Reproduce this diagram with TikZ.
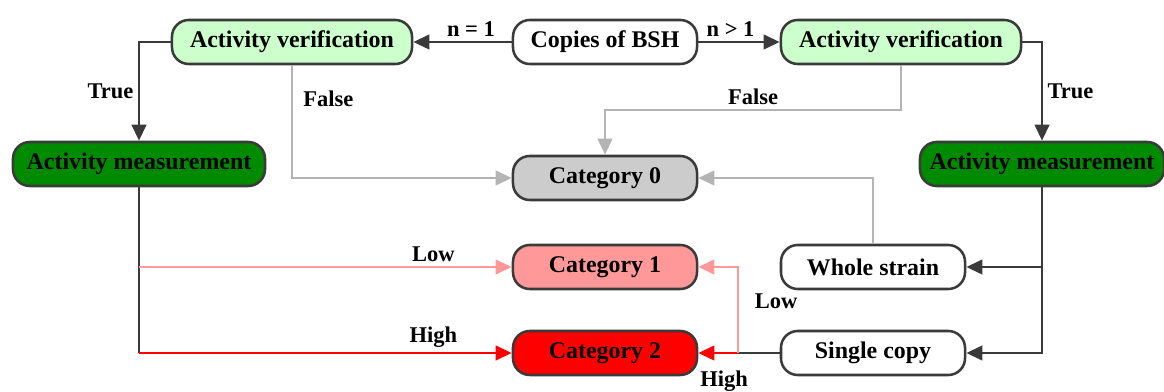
\documentclass[tikz,border=0pt]{standalone}
\usepackage{fontspec}
\setmainfont{Liberation Serif}
\usetikzlibrary{arrows.meta,calc}

\definecolor{darkline}{HTML}{3A3A3A}
\definecolor{greyline}{HTML}{B4B4B4}
\definecolor{lightgreen}{HTML}{CCFFCC}
\definecolor{darkgreen}{HTML}{008A00}
\definecolor{lightgrey}{HTML}{CCCCCC}
\definecolor{lightred}{HTML}{FF9999}
\definecolor{fullred}{HTML}{FF0000}

\tikzset{
	box/.style={draw=darkline, line width=1.8pt, rounded corners=0.42cm, inner sep=0pt,
		minimum height=1.1cm, font=\bfseries\fontsize{17}{20}\selectfont},
	lbl/.style={font=\bfseries\fontsize{16}{19}\selectfont, inner sep=3pt},
	tip/.style={-{Triangle[length=4mm,width=3.6mm]}},
	link/.style={draw=darkline, line width=2pt, tip},
	dline/.style={draw=darkline, line width=2pt},
	glink/.style={draw=greyline, line width=2pt, tip},
	plink/.style={draw=lightred, line width=2pt, tip},
	rlink/.style={draw=fullred, line width=2pt, tip}
}

\begin{document}
\begin{tikzpicture}[x=0.025cm, y=-0.025cm]

	\useasboundingbox (0,0) rectangle (1164,392);

	% boxes
	\node[box, fill=white, minimum width=4.6cm] (bsh) at (605,42) {Copies of BSH};
	\node[box, fill=lightgreen, minimum width=6cm] (av1) at (292,42) {Activity verification};
	\node[box, fill=lightgreen, minimum width=6cm] (av2) at (901,42) {Activity verification};
	\node[box, fill=darkgreen, minimum width=6.3cm] (am1) at (139,164) {Activity measurement};
	\node[box, fill=darkgreen, minimum width=6.1cm] (am2) at (1042,164) {Activity measurement};
	\node[box, fill=lightgrey, minimum width=4.6cm] (cat0) at (605,178) {Category 0};
	\node[box, fill=lightred, minimum width=4.6cm] (cat1) at (605,267) {Category 1};
	\node[box, fill=fullred, minimum width=4.6cm] (cat2) at (605,353) {Category 2};
	\node[box, fill=white, minimum width=4.6cm] (whole) at (873,267) {Whole strain};
	\node[box, fill=white, minimum width=4.6cm] (single) at (873,353) {Single copy};

	\coordinate (split) at (738,353);
	\coordinate (bend) at (901,110);

	% copies
	\draw[link] (bsh.west) -- node[lbl, above, xshift=6pt] {n = 1} (av1.east);
	\draw[link] (bsh.east) -- node[lbl, above, xshift=-6pt] {n > 1} (av2.west);

	% verification
	\draw[link] (av1.west) -| node[lbl, pos=0.75, left] {True} (am1.north);
	\draw[glink] (av1.south) |- node[lbl, pos=0.15, right, xshift=4pt] {False} (cat0.west);
	\draw[glink] (av2.south) -- (bend) -| node[lbl, pos=0.25, above] {False} (cat0.north);
	\draw[link] (av2.east) -| node[lbl, pos=0.75, right] {True} (am2.north);

	% measurement, left
	\draw[dline] (am1.south) -- (am1.south |- cat2.west);
	\draw[plink] (am1.south |- cat1.west) -- node[lbl, above, pos=0.79] {Low} (cat1.west);
	\draw[rlink] (am1.south |- cat2.west) -- node[lbl, above, pos=0.79] {High} (cat2.west);

	% measurement, right
	\draw[link] (am2.south) |- (single.east);
	\draw[link] (am2.south |- whole.east) -- (whole.east);
	\draw[glink] (whole.north) |- (cat0.east);
	\draw[dline] (single.west) -- (split);
	\draw[rlink] (split) -- node[lbl, below, pos=0.35, yshift=-0.3cm] {High} (cat2.east);
	\draw[plink] (split) |- node[lbl, pos=0.3, right, xshift=8pt] {Low} (cat1.east);

\end{tikzpicture}
\end{document}
